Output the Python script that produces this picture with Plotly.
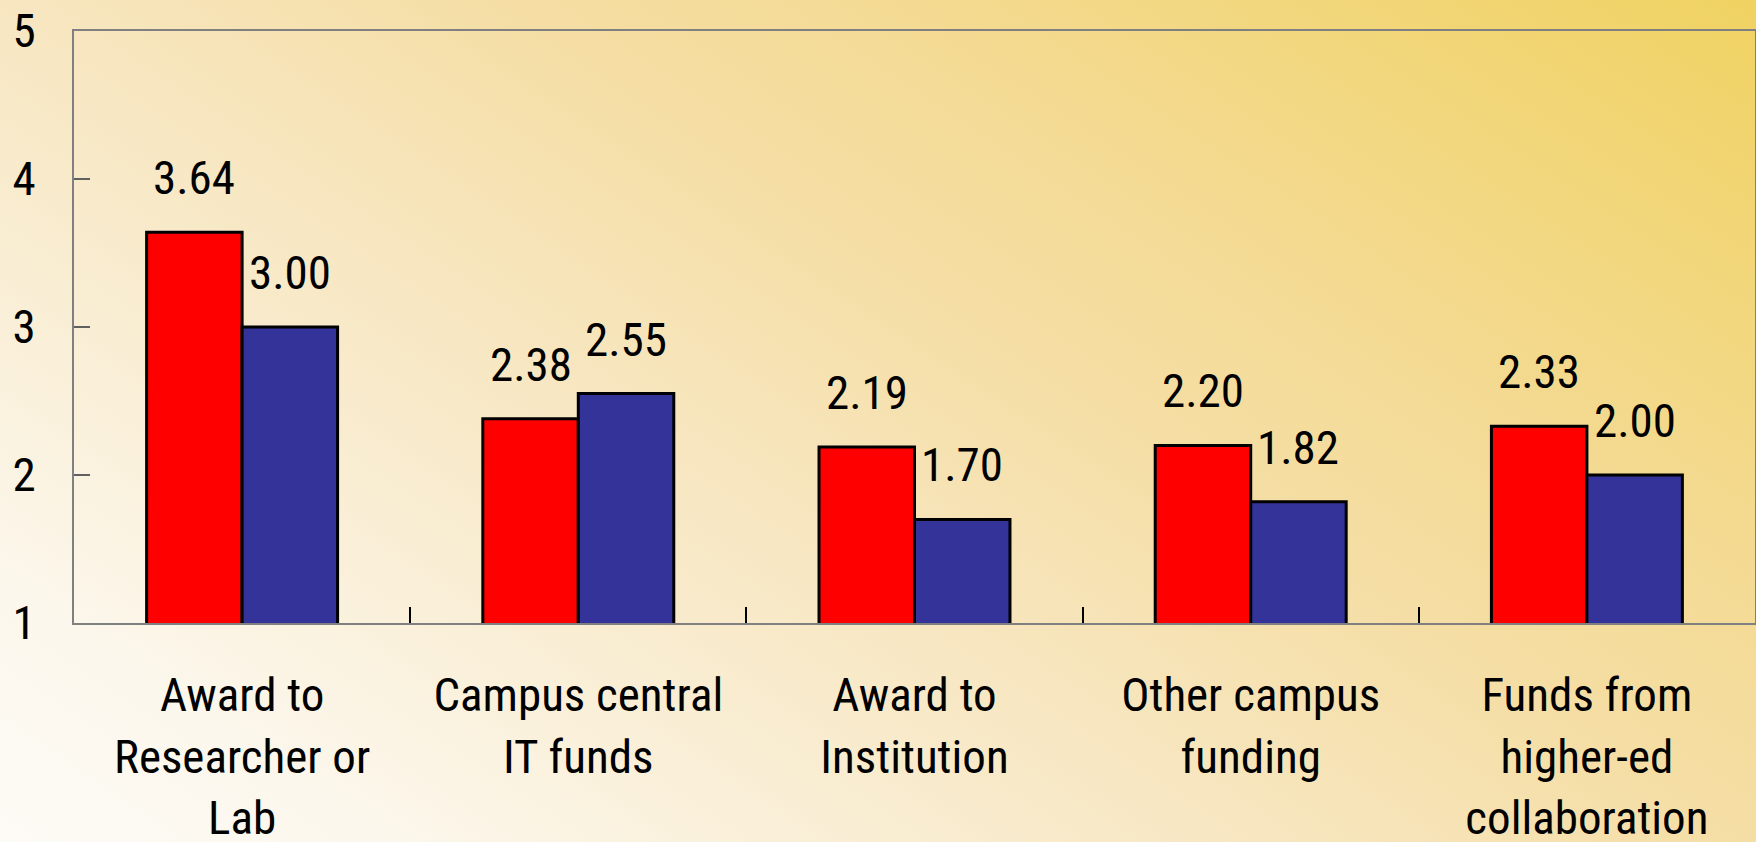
import base64
import plotly.graph_objects as go

categories = [["Award to", "Researcher or", "Lab"], ["Campus central", "IT funds"],
              ["Award to", "Institution"], ["Other campus", "funding"],
              ["Funds from", "higher-ed", "collaboration"]]
red_values = [3.64, 2.38, 2.19, 2.20, 2.33]
blue_values = [3.00, 2.55, 1.70, 1.82, 2.00]
y_ticks = [1, 2, 3, 4, 5]

FONT = "Roboto, Liberation Sans, sans-serif"
FS = 47
W, H = 1756, 842
ML, MR, MT, MB = 74, 1, 31, 219
BW = 0.284


def narrow(s):
    return f"<span style='font-stretch:condensed'>{s}</span>"


svg = f'''<svg xmlns="http://www.w3.org/2000/svg" width="{W}" height="{H}" viewBox="0 0 {W} {H}" preserveAspectRatio="none">
<defs><linearGradient id="g" gradientUnits="userSpaceOnUse" x1="0" y1="{H}" x2="929" y2="-551">
<stop offset="0" stop-color="#FDFBF6"/>
<stop offset="0.13" stop-color="#FCF7EC"/>
<stop offset="0.25" stop-color="#FAF0DA"/>
<stop offset="0.42" stop-color="#F7E6C0"/>
<stop offset="0.58" stop-color="#F5DEA5"/>
<stop offset="0.68" stop-color="#F4DB98"/>
<stop offset="1" stop-color="#F0D262"/>
</linearGradient></defs>
<rect width="{W}" height="{H}" fill="url(#g)"/></svg>'''
src = "data:image/svg+xml;base64," + base64.b64encode(svg.encode()).decode()

pw, ph = W - ML - MR, H - MT - MB
xs = list(range(len(categories)))

fig = go.Figure()
fig.add_trace(go.Bar(x=xs, y=red_values, width=BW, offset=-BW,
                     marker=dict(color="#FF0000", line=dict(color="#000000", width=3)),
                     hoverinfo="y"))
fig.add_trace(go.Bar(x=xs, y=blue_values, width=BW, offset=0,
                     marker=dict(color="#333399", line=dict(color="#000000", width=3)),
                     hoverinfo="y"))

for i, v in enumerate(red_values):
    fig.add_annotation(x=i - BW / 2, y=v, text=narrow(f"{v:.2f}"), showarrow=False,
                       yanchor="bottom", yshift=25, font=dict(family=FONT, size=FS, color="#000"))
for i, v in enumerate(blue_values):
    fig.add_annotation(x=i + BW / 2, y=v, text=narrow(f"{v:.2f}"), showarrow=False,
                       yanchor="bottom", yshift=25, font=dict(family=FONT, size=FS, color="#000"))

fig.add_layout_image(dict(source=src, xref="paper", yref="paper",
                          x=-ML / pw, y=1 + MT / ph, sizex=W / pw, sizey=H / ph,
                          xanchor="left", yanchor="top", sizing="stretch", layer="below"))

fig.update_layout(
    width=W, height=H, barmode="overlay", showlegend=False,
    margin=dict(l=ML, r=MR, t=MT, b=MB, pad=0),
    paper_bgcolor="#FAF1DC", plot_bgcolor="rgba(0,0,0,0)",
    font=dict(family=FONT, size=FS, color="#000"),
    xaxis=dict(range=[-0.5, 4.5], tickvals=xs, automargin=False,
               ticktext=["<br>".join(narrow(p) for p in c) for c in categories], ticks="",
               showgrid=False, zeroline=False, showline=True, mirror=True,
               linecolor="#808080", linewidth=2, ticklabelstandoff=30,
               minor=dict(tickvals=[0.5, 1.5, 2.5, 3.5], ticks="inside", ticklen=16,
                          tickcolor="#000", tickwidth=1.5, showgrid=False),
               tickfont=dict(family=FONT, size=FS, color="#000")),
    yaxis=dict(range=[1, 5], tickvals=y_ticks, ticktext=[narrow(str(t)) for t in y_ticks],
               automargin=False, ticks="inside", ticklen=16,
               tickcolor="#606060", tickwidth=1.5, showgrid=False, zeroline=False,
               showline=True, mirror=True, linecolor="#808080", linewidth=2,
               ticklabelstandoff=27, tickfont=dict(family=FONT, size=FS, color="#000")),
)

fig.write_html("out.html", config={"displayModeBar": False},
               post_script="document.body.style.margin='0px';document.body.style.overflow='hidden';")
